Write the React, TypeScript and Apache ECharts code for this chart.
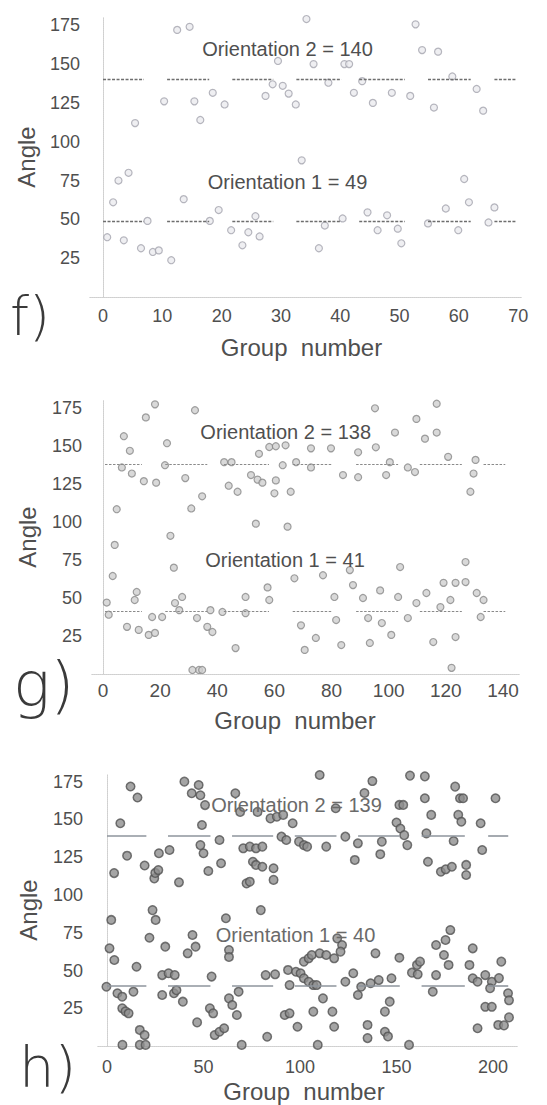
import React, { useEffect, useRef } from "react";
import * as echarts from "echarts";

// ---- tick labels ----
const fXTicks = [0, 10, 20, 30, 40, 50, 60, 70];
const gXTicks = [0, 20, 40, 60, 80, 100, 120, 140];
const hXTicks = [0, 50, 100, 150, 200];
const angleTicks = [25, 50, 75, 100, 125, 150, 175];

// ---- panel f ----
const fLevels = [49, 140]; // orientation 1, orientation 2
const fSegStart = [0, 10.8, 21.8, 32.6, 43.2, 54.8, 66];
const fSegEnd = [6.9, 17.9, 28.7, 40.2, 50.9, 62, 69.7];
const fUpper = [
  [5.4, 112], [10.3, 126], [12.5, 172], [14.6, 174], [15.4, 126], [16.4, 114], [18.5, 131.5], [20.5, 124],
  [27.4, 129.5], [28.6, 137], [29.5, 152], [30.3, 136], [31.3, 131], [32.5, 124], [34.3, 179], [35.5, 150],
  [38, 138], [40.7, 150], [41.5, 150], [42.3, 131.5], [43.7, 139], [45.5, 125], [48.7, 131.5], [51.8, 129.5],
  [52.7, 175.6], [53.8, 159], [55.8, 122], [56.5, 158], [58.9, 142], [63, 134], [64.1, 120], [33.5, 88],
];
const fLower = [
  [2.6, 75], [4.3, 80], [1.7, 61], [0.7, 38.5], [3.5, 36.5], [6.4, 31.4], [8.4, 29], [9.4, 30], [11.5, 23.7],
  [13.6, 63], [7.5, 49], [18, 49], [19.5, 56], [21.6, 43], [23.5, 33.3], [24.5, 41.7], [25.7, 52], [26.4, 39],
  [36.4, 31.4], [37.4, 46], [40.4, 50.6], [44.6, 54.5], [46.3, 43], [47.9, 52.6], [49.7, 44], [50.3, 34.6],
  [54.8, 47.4], [57.8, 57], [59.9, 43], [60.9, 76], [61.7, 61], [65, 48], [66, 57.7],
];

// ---- panel g ----
const gLevels = [41, 138];
const gSegStart = [0.7, 21.8, 42.3, 66.4, 88.6, 110.9, 133.2];
const gSegEnd = [13.6, 36.5, 58.1, 80.4, 103.3, 125.6, 140.8];
const gUpper = [
  [7.3, 156.6], [9.4, 147], [6.6, 136], [10.1, 132], [14.3, 127], [18.6, 126], [15, 169], [18.2, 177.6],
  [22.4, 152], [21.7, 137.5], [28.8, 129], [32.2, 173.7], [34.7, 117], [30.9, 109], [4.8, 108.5], [4.1, 85],
  [23.6, 91], [24.8, 70], [3.4, 64.5], [42.4, 139.5], [45, 139.5], [44, 124], [47.1, 120], [51.8, 131],
  [54.1, 128], [55.8, 126], [60.5, 127.5], [60, 119], [53.5, 99], [64.6, 97], [54.6, 145], [58.2, 149.5],
  [60.5, 150], [63.9, 150.6], [62.9, 137.5], [65.7, 120], [67.6, 139.5], [72.8, 148.6], [72.8, 136],
  [79.8, 148.6], [84, 131], [89.3, 146], [89.3, 129.6], [95.5, 149.3], [95.2, 175], [100.4, 139.5],
  [99.1, 131], [102.2, 159], [106.7, 136], [109.2, 133], [109.7, 168], [112.7, 155], [116.8, 159],
  [116.8, 178], [120.8, 143], [130.4, 141], [129.7, 132], [128.6, 120],
];
const gLower = [
  [1.3, 47], [2, 39], [8.4, 31], [12.5, 29], [16, 25.7], [18.2, 27], [11.1, 48.7], [11.8, 54], [17.2, 37.5],
  [20.7, 37.5], [25.2, 46.7], [27.7, 50.7], [26.7, 42], [32.9, 36.8], [37.6, 42], [36.5, 31], [38.3, 27.6],
  [41.8, 40.8], [46.4, 17], [49.9, 50.7], [49.9, 40], [57.6, 57], [58.2, 48.7], [67, 63], [69.3, 32],
  [70.6, 15.8], [74.5, 23.7], [77, 65], [81, 50.7], [81.6, 35.5], [83.4, 19], [86.4, 68.4], [87.5, 58.5],
  [91, 50], [92.8, 36.8], [93.4, 20.4], [97, 55], [97.6, 33.5], [100.9, 25.7], [103.3, 50.7], [104, 70.4],
  [106.7, 36.8], [109.7, 46.7], [113.2, 53.3], [115.6, 21], [119.2, 60], [118.1, 44], [121.6, 48.7],
  [123.4, 24.3], [123.4, 60], [126.9, 73.7], [126.9, 60.5], [130.8, 53.3], [133.2, 48.7], [132.2, 37.5],
  [122, 4], [33.6, 2.6], [34.7, 2.6], [31.3, 2.6],
];

// ---- panel h ----
const hLevels = [40, 139];
const hSegStart = [0, 31.6, 64.8, 97.3, 130.1, 163, 197.5];
const hSegEnd = [20.4, 53.6, 86.1, 118.9, 151.7, 185.4, 207.9];
const hUpper = [
  [3.7, 114.5], [6.9, 147.5], [10.4, 126], [12.2, 171.8], [15.8, 164.5], [19.5, 119.5], [24.5, 111],
  [25, 114.6], [26.6, 116.5], [26.9, 127.6], [32.4, 129.8], [37.3, 108.4], [40.1, 175], [43.9, 167.3],
  [47.5, 172.8], [48.4, 166], [50.8, 159.5], [49.2, 146.3], [48.4, 133], [50, 127.6], [52.5, 115.9],
  [58.3, 136.4], [59.1, 121], [66.5, 167.3], [69, 155], [78, 155], [84.7, 150.7], [88, 151.8], [91.3, 153],
  [96.2, 147.5], [90.4, 138.6], [92.9, 136.4], [99.5, 135.3], [102, 133], [103.7, 132], [113.6, 132],
  [123.5, 138.6], [130, 134.2], [128.4, 123.2], [70.6, 130.9], [74, 132], [77.2, 130.9], [80.5, 132],
  [75.6, 122], [77.2, 119.9], [80.5, 118.7], [86.3, 117.7], [72.3, 107.7], [74, 108.8], [86.3, 110],
  [79.7, 90], [118.5, 157.4], [110.2, 179.4], [133.4, 167.5], [137.5, 175.4], [141.6, 127], [142.4, 135.3],
  [151.5, 159.6], [153.5, 159.6], [150, 148], [152, 144], [154, 139.6], [155.6, 133], [157, 179],
  [164.7, 164], [168, 153], [165.5, 140.8], [166.3, 122], [173, 115.4], [175.5, 117], [178.7, 118.7],
  [186.1, 119.9], [186.1, 113.2], [180.4, 171.7], [182.9, 164], [184.5, 164], [182, 153], [183.6, 148.5],
  [179.6, 135.7], [193.6, 147.5], [194.4, 129.8], [201.3, 164], [164.7, 178.5],
];
const hLower = [
  [2.2, 83.5], [1.3, 64.7], [3.8, 57], [-0.3, 39.3], [5.4, 35], [7.9, 32.7], [13.7, 36], [15.3, 52.5],
  [7.9, 25], [9.6, 23], [11.2, 21.7], [17, 10.7], [19.5, 7.3], [8, 0.8], [17, 0.8], [20, 0.8], [22, 71.7],
  [23.6, 90], [25.2, 83.5], [30.2, 65.8], [28.6, 47], [31.9, 48.2], [35.1, 47], [28.6, 33.8], [34.7, 35],
  [36, 37], [39.3, 29.4], [44.3, 73.5], [41.8, 61.4], [45.9, 65.8], [46.7, 15.7], [54.2, 46], [53.3, 25],
  [55, 21.7], [55.8, 7.3], [58.3, 9.5], [60.7, 11.8], [61.6, 84.6], [63.2, 63.6], [63.2, 59], [63.2, 31.6],
  [64.9, 27.2], [67.3, 20.6], [68.2, 36], [69.8, 0.8], [82.2, 47], [87.1, 47.5], [83, 6.2], [92.1, 20.6],
  [94.6, 21.7], [94.6, 40.4], [93.8, 50.4], [97.9, 49.2], [100.3, 48.2], [102, 44.9], [104.5, 42.6],
  [106.9, 40.4], [108.6, 40.4], [102, 55.9], [104.5, 58.1], [106.1, 60.3], [110.2, 61.4], [113.6, 60.3],
  [117.7, 58.1], [119.3, 71.3], [121.8, 66.9], [121, 62.5], [123.5, 42.6], [127.6, 48.2], [130, 33.8],
  [98.7, 12.8], [106.9, 22.8], [111.9, 31.6], [116.8, 22.8], [117.7, 12.8], [109.2, 0.8], [131.7, 39.3],
  [136.6, 41.6], [140.8, 43.7], [147.4, 44.9], [146.5, 29.4], [144, 22.8], [135, 14], [135, 5.3], [144, 9.5],
  [145.6, 6.4], [139.1, 61.4], [151.5, 58.5], [156.5, 0.8], [158, 48.6], [161, 47.5], [160.6, 53.7],
  [162.2, 55.9], [168.8, 36], [170.5, 47], [170.5, 66.9], [175.4, 70.2], [174.6, 60.3], [177, 53.7],
  [177.9, 76.8], [187.8, 53.7], [189.5, 64.7], [189.5, 44.9], [192, 42.6], [196, 47], [199.4, 42.6],
  [198.5, 38.3], [196, 26], [199.4, 26], [192, 11.8], [202.7, 14], [204.3, 55.9], [203.1, 45], [207.8, 35],
  [208.3, 30.3], [208.3, 19], [205.7, 13.7],
];

const FONT = "'Liberation Sans', Arial, sans-serif";
const LETTER_FONT = "'DejaVu Sans', 'Liberation Sans', sans-serif";
const TEXT = "#4f4f4f";

type Panel = {
  grid: { left: number; top: number; width: number; height: number };
  xMin: number;
  xMax: number;
  xTicks: number[];
  xLabelSize: number;
  xLabelMargin: number;
  yLabelMargin: number;
  points: number[][];
  levels: number[];
  segStart: number[];
  segEnd: number[];
  marker: { size: number; fill: string; stroke: string; strokeWidth: number };
  line: { color: string; width: number; type: any };
  title: { x: number; y: number };
  angle: { x: number; y: number };
  notes: { x: number; y: number; color: string }[];
  letter: { text: string; x: number; y: number; size: number };
};

const panels: Panel[] = [
  {
    grid: { left: 90, top: 17.5, width: 432, height: 279.5 },
    xMin: -2.2, xMax: 70.65, xTicks: fXTicks, xLabelSize: 18, xLabelMargin: 10, yLabelMargin: 10,
    points: [...fUpper, ...fLower], levels: fLevels, segStart: fSegStart, segEnd: fSegEnd,
    marker: { size: 7, fill: "#ebebef", stroke: "#a4a4ae", strokeWidth: 1.2 },
    line: { color: "#6e6e6e", width: 1.3, type: [3, 1.5] },
    title: { x: 301.5, y: 347 }, angle: { x: 26, y: 157 },
    notes: [{ x: 287.5, y: 181.7, color: TEXT }, { x: 287.5, y: 49.3, color: TEXT }],
    letter: { text: "f)", x: 10, y: 316, size: 54 },
  },
  {
    grid: { left: 92, top: 400.7, width: 428, height: 273.2 },
    xMin: -3.85, xMax: 145.96, xTicks: gXTicks, xLabelSize: 19, xLabelMargin: 7, yLabelMargin: 10,
    points: [...gUpper, ...gLower], levels: gLevels, segStart: gSegStart, segEnd: gSegEnd,
    marker: { size: 7, fill: "#d0d0d0", stroke: "#888888", strokeWidth: 1.2 },
    line: { color: "#8a8a8a", width: 1.2, type: [2.5, 1.5] },
    title: { x: 295, y: 720 }, angle: { x: 27, y: 537 },
    notes: [{ x: 285, y: 560, color: TEXT }, { x: 285.7, y: 432, color: TEXT }],
    letter: { text: "g)", x: 13, y: 684, size: 62 },
  },
  {
    grid: { left: 98, top: 774.1, width: 420, height: 272 },
    xMin: -4.66, xMax: 212.96, xTicks: hXTicks, xLabelSize: 18, xLabelMargin: 12, yLabelMargin: 15,
    points: [...hUpper, ...hLower], levels: hLevels, segStart: hSegStart, segEnd: hSegEnd,
    marker: { size: 8.5, fill: "#8e8e8e", stroke: "#525252", strokeWidth: 1.5 },
    line: { color: "#8e959c", width: 1.6, type: "solid" },
    title: { x: 304, y: 1091 }, angle: { x: 28.5, y: 910 },
    notes: [{ x: 295.5, y: 935, color: "#6a6a6a" }, { x: 296.5, y: 805, color: "#6a6a6a" }],
    letter: { text: "h)", x: 19, y: 1066, size: 56 },
  },
];

const frameLine = { show: true, lineStyle: { color: "#cfcfcf", type: "dotted" as const, width: 1 } };

function buildOption() {
  const grid: any[] = [];
  const xAxis: any[] = [];
  const yAxis: any[] = [];
  const series: any[] = [];
  const graphic: any[] = [];

  panels.forEach((p, i) => {
    grid.push({ ...p.grid, containLabel: false });
    xAxis.push({
      type: "value", gridIndex: i, min: p.xMin, max: p.xMax, position: "bottom",
      axisLine: frameLine, axisTick: { show: false }, splitLine: { show: false },
      axisLabel: { customValues: p.xTicks, color: TEXT, fontSize: p.xLabelSize, fontFamily: FONT, margin: p.xLabelMargin },
    });
    xAxis.push({
      type: "value", gridIndex: i, min: p.xMin, max: p.xMax, position: "top",
      axisLine: frameLine, axisTick: { show: false }, splitLine: { show: false }, axisLabel: { show: false },
    });
    yAxis.push({
      type: "value", gridIndex: i, min: 0, max: 180, position: "left",
      axisLine: frameLine, axisTick: { show: false }, splitLine: { show: false },
      axisLabel: { customValues: angleTicks, color: TEXT, fontSize: 18, fontFamily: FONT, margin: p.yLabelMargin },
    });
    yAxis.push({
      type: "value", gridIndex: i, min: 0, max: 180, position: "right",
      axisLine: frameLine, axisTick: { show: false }, splitLine: { show: false }, axisLabel: { show: false },
    });

    const segs: any[] = [];
    p.levels.forEach((lv) => {
      p.segStart.forEach((s, k) => {
        segs.push([{ coord: [s, lv] }, { coord: [p.segEnd[k], lv] }]);
      });
    });

    series.push({
      type: "scatter",
      xAxisIndex: 2 * i,
      yAxisIndex: 2 * i,
      data: p.points,
      symbol: "circle",
      symbolSize: p.marker.size,
      itemStyle: { color: p.marker.fill, borderColor: p.marker.stroke, borderWidth: p.marker.strokeWidth },
      markLine: {
        silent: true,
        symbol: ["none", "none"],
        label: { show: false },
        lineStyle: { color: p.line.color, width: p.line.width, type: p.line.type },
        data: segs,
      },
      z: 3,
    });

    // axis titles
    graphic.push({
      type: "text", x: p.title.x, y: p.title.y,
      style: { text: "Group  number", fill: TEXT, fontSize: 24, fontFamily: FONT, align: "center", verticalAlign: "middle" },
    });
    graphic.push({
      type: "text", x: p.angle.x, y: p.angle.y, rotation: Math.PI / 2,
      style: { text: "Angle", fill: TEXT, fontSize: 24, fontFamily: FONT, align: "center", verticalAlign: "middle" },
    });
    // orientation annotations
    p.levels.forEach((lv, k) => {
      const n = p.notes[k];
      graphic.push({
        type: "text", x: n.x, y: n.y, z: 10,
        style: {
          text: `Orientation ${k + 1} = ${lv}`, fill: n.color, fontSize: 20, fontFamily: FONT,
          align: "center", verticalAlign: "middle",
        },
      });
    });
    // panel letter
    graphic.push({
      type: "text", x: p.letter.x, y: p.letter.y,
      style: {
        text: p.letter.text, fill: "#3a3a3a", fontSize: p.letter.size, fontFamily: LETTER_FONT,
        fontWeight: 200, align: "left", verticalAlign: "middle",
      },
    });
  });

  return { animation: false, backgroundColor: "#ffffff", grid, xAxis, yAxis, series, graphic };
}

export default function App() {
  const ref = useRef<HTMLDivElement>(null);
  useEffect(() => {
    if (!ref.current) return;
    const chart = echarts.init(ref.current, undefined, { renderer: "svg" });
    chart.setOption(buildOption() as any);
    return () => chart.dispose();
  }, []);
  return (
    <div
      ref={ref}
      style={{ position: "fixed", left: 0, top: 0, width: 547, height: 1105, background: "#fff" }}
    />
  );
}
